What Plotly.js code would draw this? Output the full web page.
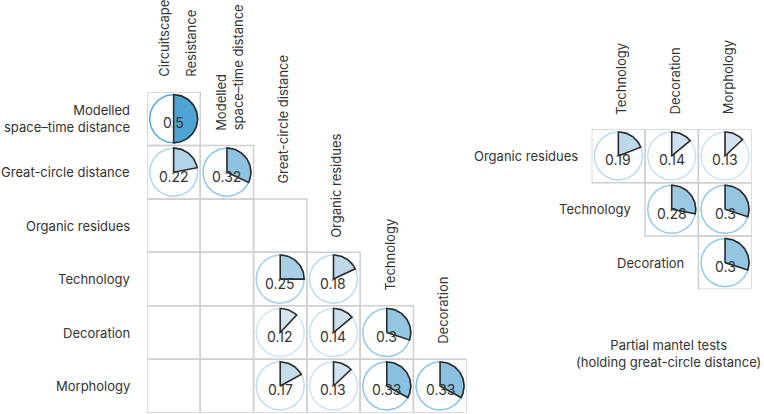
<!DOCTYPE html>
<html>
<head>
<meta charset="utf-8">
<script src="https://cdn.plot.ly/plotly-3.0.1.min.js"></script>
<style>html,body{margin:0;padding:0;background:#fff;}#chart{width:764px;height:414px;}</style>
</head>
<body>
<div id="chart"></div>
<script>
// ---------- data ----------
const leftRowLabels = ["Modelled<br>space–time distance", "Great-circle distance", "Organic residues", "Technology", "Decoration", "Morphology"];
const leftColLabels = ["Circuitscape<br>Resistance", "Modelled<br>space–time distance", "Great-circle distance", "Organic residues", "Technology", "Decoration"];
const leftValues = [
  [0.5],
  [0.22, 0.32],
  [null, null, null],
  [null, null, 0.25, 0.18],
  [null, null, 0.12, 0.14, 0.3],
  [null, null, 0.17, 0.13, 0.33, 0.33]
];
const rightRowLabels = ["Organic residues", "Technology", "Decoration"];
const rightColLabels = ["Technology", "Decoration", "Morphology"];
const rightValues = [
  [0.19, 0.14, 0.13],
  [null, 0.28, 0.3],
  [null, null, 0.3]
];
const rightCaption = "Partial mantel tests<br>(holding great-circle distance)";

// ---------- style ----------
const FONT = "Inter, 'Open Sans', sans-serif";
const FS = 13;
const TXT = "#333333";
const GRID = "#cfcfcf";
const R = 0.45;
function lerp(a, b, t) { return Math.round(a + (b - a) * t); }
function fillColor(v) {
  const t = Math.max(0, Math.min(1, v / 0.5));
  const c0 = [253, 249, 247], c1 = [78, 164, 212];
  return `rgb(${lerp(c0[0], c1[0], t)},${lerp(c0[1], c1[1], t)},${lerp(c0[2], c1[2], t)})`;
}
function ringColor(v) {
  const t = Math.max(0, Math.min(1, v / 0.5));
  const c0 = [245, 248, 250], c1 = [80, 168, 222];
  return `rgb(${lerp(c0[0], c1[0], t)},${lerp(c0[1], c1[1], t)},${lerp(c0[2], c1[2], t)})`;
}

const traces = [];
const shapes = [];
const annotations = [];

function addCell(xa, ya, c, r, v) {
  shapes.push({type: "rect", xref: xa, yref: ya, x0: c, x1: c + 1, y0: r, y1: r + 1,
    line: {color: GRID, width: 1.5}, fillcolor: "rgba(0,0,0,0)", layer: "below"});
  if (v === null || v === undefined) return;
  const cx = c + 0.5, cy = r + 0.5;
  const rx = [], ry = [];
  for (let i = 0; i <= 120; i++) {
    const a = i / 120 * 2 * Math.PI;
    rx.push(cx + R * Math.sin(a)); ry.push(cy - R * Math.cos(a));
  }
  traces.push({type: "scatter", mode: "lines", x: rx, y: ry, xaxis: xa, yaxis: ya,
    line: {color: ringColor(v), width: 1.5}, hoverinfo: "skip", fill: "toself", fillcolor: "#ffffff"});
  const wx = [cx], wy = [cy];
  const n = Math.max(4, Math.round(v * 120));
  for (let i = 0; i <= n; i++) {
    const a = i / n * v * 2 * Math.PI;
    wx.push(cx + R * Math.sin(a)); wy.push(cy - R * Math.cos(a));
  }
  wx.push(cx); wy.push(cy);
  traces.push({type: "scatter", mode: "lines", x: wx, y: wy, xaxis: xa, yaxis: ya,
    fill: "toself", fillcolor: fillColor(v), line: {color: "#2a2a2a", width: 1.6}, hoverinfo: "skip"});
  annotations.push({xref: xa, yref: ya, x: cx, y: cy, text: String(v), showarrow: false,
    yshift: -4, font: {family: FONT, size: 14, color: TXT}});
}

function addColLabel(xa, ya, c, r, label, gap) {
  const lines = label.split("<br>");
  const k = lines.length;
  lines.forEach((ln, i) => {
    annotations.push({xref: xa, yref: ya, x: c + 0.5, y: r, text: ln, showarrow: false,
      textangle: -90, xanchor: "center", yanchor: "bottom", yshift: 13,
      xshift: (i - (k - 1) / 2) * gap + 3, font: {family: FONT, size: FS, color: TXT}});
  });
}

leftValues.forEach((row, r) => {
  for (let c = 0; c <= r; c++) addCell("x", "y", c, r, row[c]);
});
leftRowLabels.forEach((lab, r) => {
  annotations.push({xref: "x", yref: "y", x: 0, y: r + 0.5, text: lab, showarrow: false,
    xanchor: "right", yanchor: "middle", xshift: -15, align: "right",
    font: {family: FONT, size: FS, color: TXT}});
});
leftColLabels.forEach((lab, c) => addColLabel("x", "y", c, c, lab, c === 0 ? 27 : 18));

rightValues.forEach((row, r) => {
  for (let c = r; c < rightColLabels.length; c++) addCell("x2", "y2", c, r, row[c]);
});
rightRowLabels.forEach((lab, r) => {
  annotations.push({xref: "x2", yref: "y2", x: r, y: r + 0.5, text: lab, showarrow: false,
    xanchor: "right", yanchor: "middle", xshift: -12, font: {family: FONT, size: FS, color: TXT}});
});
rightColLabels.forEach((lab, c) => addColLabel("x2", "y2", c, 0, lab, 18));

annotations.push({xref: "paper", yref: "paper", x: 668 / 764, y: (414 - 353) / 414, text: rightCaption,
  showarrow: false, xanchor: "center", yanchor: "middle", align: "center",
  font: {family: FONT, size: FS, color: TXT}});

const W = 764, H = 414;
const ax = {showgrid: false, zeroline: false, showticklabels: false, ticks: "", showline: false, fixedrange: true};
const layout = {
  width: W, height: H, margin: {l: 0, r: 0, t: 0, b: 0},
  paper_bgcolor: "#fff", plot_bgcolor: "rgba(0,0,0,0)", showlegend: false,
  xaxis: Object.assign({domain: [147 / W, 466.7 / W], range: [0, 6]}, ax),
  yaxis: Object.assign({domain: [(H - 412.7) / H, (H - 92) / H], range: [6, 0]}, ax),
  xaxis2: Object.assign({domain: [591.7 / W, 751.7 / W], range: [0, 3], anchor: "y2"}, ax),
  yaxis2: Object.assign({domain: [(H - 289.3) / H, (H - 129.3) / H], range: [3, 0], anchor: "x2"}, ax),
  shapes: shapes, annotations: annotations
};
Plotly.newPlot("chart", traces, layout, {displayModeBar: false, staticPlot: true});
</script>
</body>
</html>
